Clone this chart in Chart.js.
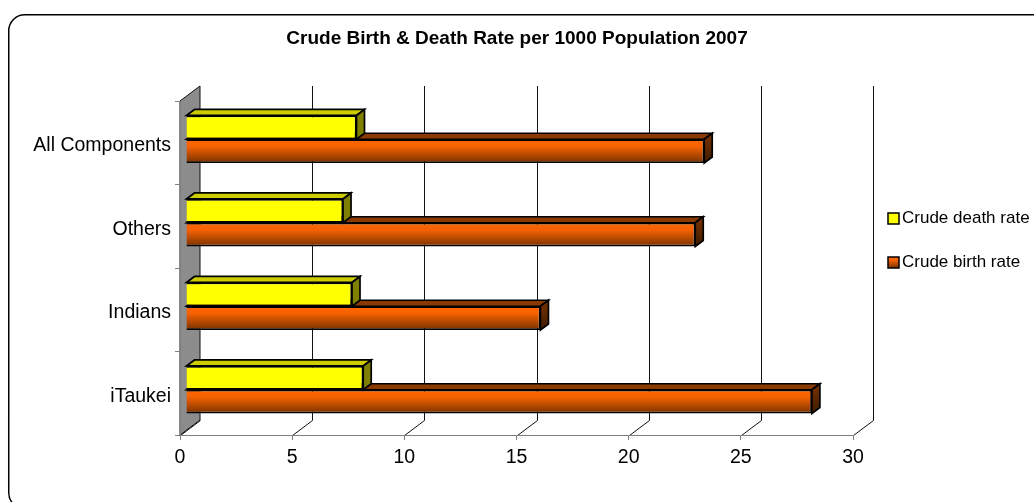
<!DOCTYPE html>
<html><head><meta charset="utf-8">
<style>html,body{margin:0;padding:0;background:#fff}canvas{display:block}</style>
<script src="https://cdn.jsdelivr.net/npm/chart.js@4"></script>
</head><body>
<canvas id="c" width="1034" height="502" style="width:1034px;height:502px"></canvas>
<script>
const categories = ['All Components', 'Others', 'Indians', 'iTaukei'];
const deathRate = [7.6, 7.0, 7.4, 7.9];
const birthRate = [23.1, 22.7, 15.8, 27.9];
const xTicks = [0, 5, 10, 15, 20, 25, 30];
const titleText = 'Crude Birth & Death Rate per 1000 Population 2007';

const FONT = '"Liberation Sans", Arial, sans-serif';
const WALL = {dx: 20, dy: -15};
const BAR_SHIFT = {dx: 6, dy: -3.5};
const BAR_DEPTH = {dx: 8, dy: -6};

function vGrad(ctx, y0, y1, stops) {
  const g = ctx.createLinearGradient(0, y0, 0, y1);
  stops.forEach(([p, c]) => g.addColorStop(p, c));
  return g;
}
const ORANGE_STOPS = [[0, '#ff6600'], [0.3, '#f56200'], [1, '#753100']];
function birthFill(c) {
  if (c.type !== 'data') return '#e85c00';
  const y = c.chart.scales.y.getPixelForValue(c.dataIndex);
  if (!isFinite(y)) return '#e85c00';
  return vGrad(c.chart.ctx, y - 3.5 + 3.5, y + 24, ORANGE_STOPS);
}

const stage = {
  id: 'stage',
  beforeDraw(chart) {
    const {ctx, chartArea: a, scales: {x}} = chart;
    ctx.save();
    ctx.beginPath();
    ctx.roundRect(8.75, 14.75, 1040, 494, 16);
    ctx.fillStyle = '#fff'; ctx.fill();
    ctx.strokeStyle = '#000'; ctx.lineWidth = 1.5; ctx.stroke();
    ctx.strokeStyle = '#111'; ctx.lineWidth = 1;
    xTicks.forEach(t => {
      const px = Math.round(x.getPixelForValue(t)) + 0.5;
      ctx.beginPath();
      ctx.moveTo(px, a.bottom + .5);
      ctx.lineTo(px + WALL.dx, a.bottom + WALL.dy + .5);
      if (t !== 0) ctx.lineTo(px + WALL.dx, a.top + WALL.dy);
      ctx.stroke();
    });
    ctx.beginPath();
    ctx.moveTo(a.left, a.top);
    ctx.lineTo(a.left + WALL.dx, a.top + WALL.dy);
    ctx.lineTo(a.left + WALL.dx, a.bottom + WALL.dy);
    ctx.lineTo(a.left, a.bottom);
    ctx.closePath();
    ctx.fillStyle = '#8c8c8c'; ctx.fill();
    ctx.strokeStyle = '#111'; ctx.lineWidth = 1; ctx.stroke();
    ctx.restore();
  },
  beforeDatasetDraw(chart, args) {
    const {ctx} = chart;
    const meta = args.meta;
    const yellow = args.index === 0;
    ctx.save();
    ctx.translate(BAR_SHIFT.dx, BAR_SHIFT.dy);
    ctx.lineWidth = 1.7; ctx.strokeStyle = '#000'; ctx.lineJoin = 'miter';
    meta.data.forEach(b => {
      const top = b.y - b.height / 2, bot = b.y + b.height / 2;
      const l = b.base, r = b.x, dx = BAR_DEPTH.dx, dy = BAR_DEPTH.dy;
      ctx.beginPath();
      ctx.moveTo(l, top); ctx.lineTo(l + dx, top + dy); ctx.lineTo(r + dx, top + dy); ctx.lineTo(r, top); ctx.closePath();
      ctx.fillStyle = yellow ? '#cccc00' : '#8a3a00'; ctx.fill(); ctx.stroke();
      ctx.beginPath();
      ctx.moveTo(r, top); ctx.lineTo(r + dx, top + dy); ctx.lineTo(r + dx, bot + dy); ctx.lineTo(r, bot); ctx.closePath();
      ctx.fillStyle = yellow ? '#808000' : vGrad(ctx, top + dy, bot + dy, [[0, '#7a3300'], [1, '#4a2000']]); ctx.fill(); ctx.stroke();
    });
  },
  afterDatasetDraw(chart) { chart.ctx.restore(); },
  afterLayout(chart) {
    const lg = chart.legend;
    const w = lg.width, h = lg.height;
    lg.left = 888 - lg.options.labels.padding; lg.right = lg.left + w; lg.top = 182.5; lg.bottom = lg.top + h;
    chart.scales.y.getLabelItems(chart.chartArea).forEach(it => {
      it.options = Object.assign({}, it.options, {translation: [it.options.translation[0], it.options.translation[1] + 3]});
    });
  },
  afterDraw(chart) {
    const {ctx} = chart;
    ctx.save();
    ctx.lineWidth = 1.5; ctx.strokeStyle = '#000';
    chart.legend.legendHitBoxes.forEach((h, i) => {
      const cy = h.top + h.height / 2, y0 = Math.round(cy - 5.5);
      ctx.fillStyle = i === 0 ? '#ffff00' : vGrad(ctx, y0, y0 + 11, ORANGE_STOPS);
      ctx.fillRect(888, y0, 11, 11);
      ctx.strokeRect(888, y0, 11, 11);
    });
    ctx.font = 'bold 19px ' + FONT;
    ctx.fillStyle = '#000'; ctx.textAlign = 'center'; ctx.textBaseline = 'middle';
    ctx.fillText(titleText, 517, 39);
    ctx.restore();
  }
};

new Chart(document.getElementById('c'), {
  type: 'bar',
  data: {
    labels: categories,
    datasets: [
      {label: 'Crude death rate', data: deathRate, backgroundColor: '#ffff00', borderColor: '#000', borderWidth: 1.7},
      {label: 'Crude birth rate', data: birthRate, backgroundColor: birthFill, borderColor: '#000', borderWidth: 1.7}
    ]
  },
  options: {
    indexAxis: 'y',
    responsive: false,
    animation: false,
    events: [],
    categoryPercentage: 0.57,
    barPercentage: 1,
    layout: {padding: {left: 0, right: 181, top: 101, bottom: 0}},
    scales: {
      x: {
        min: 0, max: 30,
        afterBuildTicks(s) { s.ticks = xTicks.map(v => ({value: v})); },
        afterFit(s) { s.height = 67; },
        grid: {drawOnChartArea: false, drawTicks: true, tickLength: 5, color: '#808080'},
        border: {color: '#808080'},
        ticks: {color: '#000', padding: 6, maxRotation: 0, font: {family: FONT, size: 19.5}}
      },
      y: {
        afterFit(s) { s.width = 180; },
        grid: {drawOnChartArea: false, drawTicks: true, tickLength: 5, color: '#808080'},
        border: {color: '#808080'},
        ticks: {color: '#000', padding: 4, font: {family: FONT, size: 19.5}}
      }
    },
    plugins: {
      title: {display: false},
      tooltip: {enabled: false},
      legend: {
        position: 'chartArea', align: 'start',
        labels: {
          boxWidth: 5.5, boxHeight: 11, padding: 27, color: '#000',
          font: {family: FONT, size: 17},
          generateLabels(chart) {
            return chart.data.datasets.map((d, i) => ({
              text: d.label, datasetIndex: i, fontColor: '#000',
              fillStyle: 'rgba(0,0,0,0)', strokeStyle: 'rgba(0,0,0,0)', lineWidth: 0
            }));
          }
        }
      }
    }
  },
  plugins: [stage]
});
</script>
</body></html>
